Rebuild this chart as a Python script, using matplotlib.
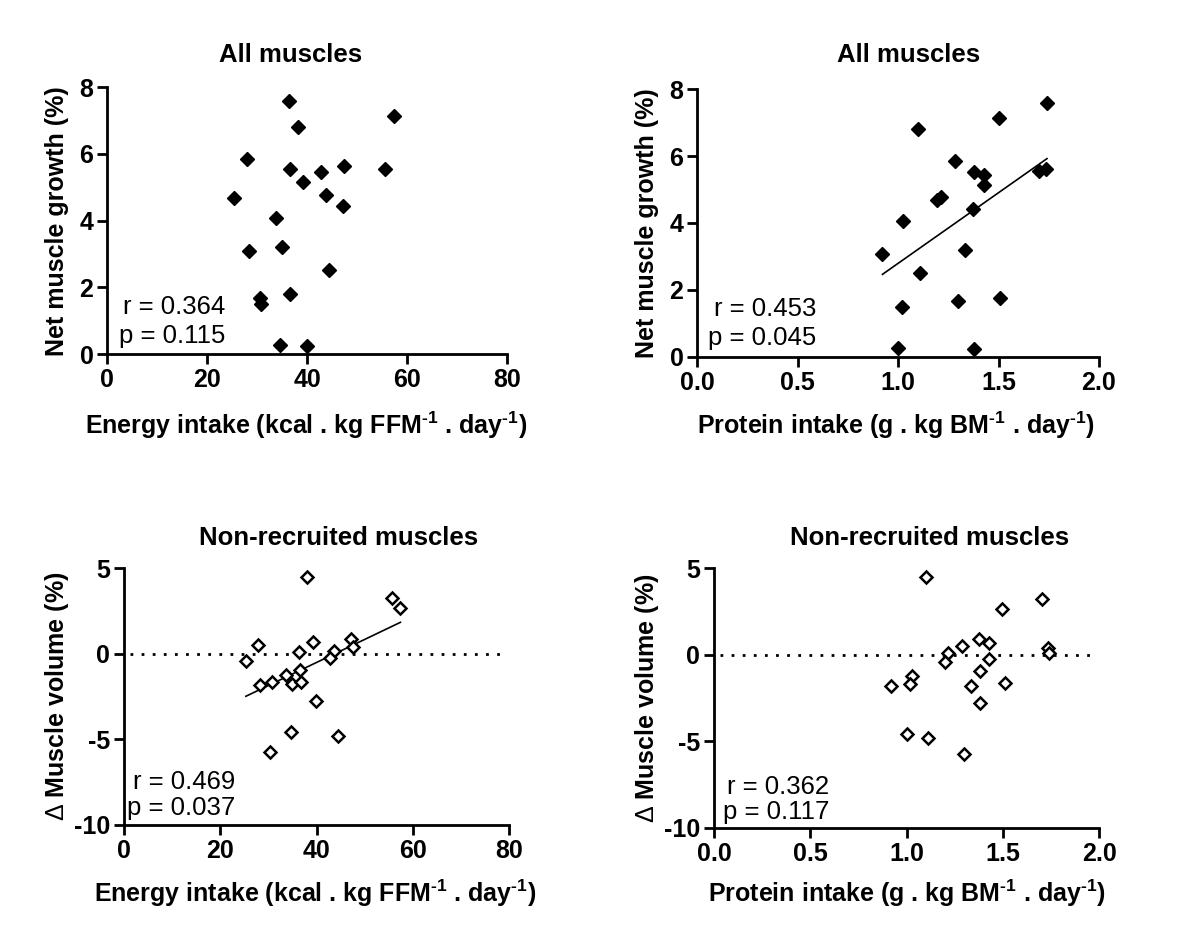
import numpy as np
import matplotlib
matplotlib.use("Agg")
import matplotlib.pyplot as plt

plt.rcParams['font.family'] = ['Liberation Sans', 'DejaVu Sans']
plt.rcParams['mathtext.fontset'] = 'custom'
plt.rcParams['mathtext.rm'] = 'Liberation Sans'
plt.rcParams['mathtext.bf'] = 'Liberation Sans:bold'
plt.rcParams['mathtext.default'] = 'bf'

# ---------------- data ----------------
titles = ["All muscles", "All muscles", "Non-recruited muscles", "Non-recruited muscles"]
xlabels = ["Energy intake (kcal . kg FFM$^{\u20101}$ . day$^{\u20101}$)",
           "Protein intake (g . kg BM$^{\u20101}$ . day$^{\u20101}$)"]
ylabels = ["Net muscle growth (%)", "$\\mathrm{\\Delta}$ Muscle volume (%)"]
stats = [("r = 0.364", "p = 0.115"), ("r = 0.453", "p = 0.045"),
         ("r = 0.469", "p = 0.037"), ("r = 0.362", "p = 0.117")]

energy_all = [36.3, 57.3, 38.1, 27.9, 36.6, 42.7, 47.4, 55.5, 39.2, 25.3, 43.7,
              47.1, 33.7, 35.0, 28.3, 44.3, 36.6, 30.5, 30.7, 34.6, 39.9]
growth_all_e = [7.59, 7.15, 6.82, 5.85, 5.55, 5.46, 5.64, 5.55, 5.16, 4.68, 4.76,
                4.45, 4.09, 3.21, 3.08, 2.53, 1.79, 1.69, 1.51, 0.28, 0.25]

protein_all = [1.741, 1.50, 1.098, 1.284, 1.380, 1.425, 1.699, 1.738, 1.425, 1.193, 1.214,
               1.374, 1.023, 0.922, 1.334, 1.111, 1.018, 1.297, 1.508, 0.998, 1.380]
growth_all_p = [7.58, 7.15, 6.81, 5.85, 5.53, 5.45, 5.55, 5.63, 5.14, 4.69, 4.77,
                4.43, 4.07, 3.08, 3.20, 2.51, 1.48, 1.67, 1.77, 0.25, 0.22]

energy_nr = [38.1, 55.6, 57.4, 27.9, 39.2, 47.1, 47.5, 36.4, 43.7, 42.8, 25.3,
             36.6, 33.6, 30.7, 28.2, 34.9, 36.7, 39.9, 34.6, 44.4, 30.4]
dvol_nr_e = [4.51, 3.27, 2.67, 0.53, 0.68, 0.89, 0.41, 0.12, 0.14, -0.23, -0.39,
             -0.95, -1.21, -1.67, -1.81, -1.77, -1.65, -2.78, -4.59, -4.82, -5.74]

protein_nr = [1.100, 1.703, 1.497, 1.378, 1.429, 1.286, 1.736, 1.740, 1.216, 1.198, 1.426,
              1.383, 1.028, 1.017, 0.921, 1.334, 1.510, 1.383, 1.002, 1.112, 1.300]
dvol_nr_p = [4.48, 3.24, 2.64, 0.91, 0.68, 0.52, 0.41, 0.12, 0.12, -0.39, -0.25,
             -0.93, -1.22, -1.70, -1.81, -1.78, -1.66, -2.78, -4.61, -4.83, -5.75]

xticks_e = [0, 20, 40, 60, 80]
xticks_p = [0.0, 0.5, 1.0, 1.5, 2.0]
yticks_top = [0, 2, 4, 6, 8]
yticks_bot = [-10, -5, 0, 5]

# ---------------- figure ----------------
W, H = 1200, 950
fig = plt.figure(figsize=(12, 9.5), dpi=100)


def rect(x0, x1, yt, yb):
    return [x0 / W, 1 - yb / H, (x1 - x0) / W, (yb - yt) / H]


FS_TICK = 18
FS_LAB = 18
FS_TITLE = 18.5
FS_STAT = 18.5

panels = [
    dict(r=rect(107.3, 507.3, 87.3, 354.0), x=energy_all, y=growth_all_e, filled=True,
         xlim=(0, 80), ylim=(0, 8), xt=xticks_e, yt=yticks_top, xfmt="{:g}", fit=False, zero=False,
         title_x=291, title_y=55, xl=xlabels[0], xl_x=306, xl_y=425, yl=ylabels[0], yl_x=57,
         st_x=0.294, st_y=(0.176, 0.067)),
    dict(r=rect(697.3, 1099.0, 89.3, 356.7), x=protein_all, y=growth_all_p, filled=True,
         xlim=(0, 2), ylim=(0, 8), xt=xticks_p, yt=yticks_top, xfmt="{:.1f}", fit=True, zero=False,
         title_x=909, title_y=55, xl=xlabels[1], xl_x=896, xl_y=425, yl=ylabels[0], yl_x=647,
         st_x=0.296, st_y=(0.178, 0.070)),
    dict(r=rect(124.0, 509.3, 568.3, 825.0), x=energy_nr, y=dvol_nr_e, filled=False,
         xlim=(0, 80), ylim=(-10, 5), xt=xticks_e, yt=yticks_bot, xfmt="{:g}", fit=True, zero=True,
         title_x=339, title_y=538, xl=xlabels[0], xl_x=315, xl_y=893, yl=ylabels[1], yl_x=57,
         st_x=0.290, st_y=(0.169, 0.065)),
    dict(r=rect(714.0, 1099.3, 568.3, 827.7), x=protein_nr, y=dvol_nr_p, filled=False,
         xlim=(0, 2), ylim=(-10, 5), xt=xticks_p, yt=yticks_bot, xfmt="{:.1f}", fit=False, zero=True,
         title_x=930, title_y=538, xl=xlabels[1], xl_x=907, xl_y=893, yl=ylabels[1], yl_x=647,
         st_x=0.299, st_y=(0.156, 0.062)),
]

for i, p in enumerate(panels):
    ax = fig.add_axes(p["r"])
    ax.set_xlim(*p["xlim"])
    ax.set_ylim(*p["ylim"])
    for s in ("top", "right"):
        ax.spines[s].set_visible(False)
    for s in ("left", "bottom"):
        ax.spines[s].set_linewidth(2.0)
    ax.set_xticks(p["xt"])
    ax.set_xticklabels([p["xfmt"].format(v) for v in p["xt"]])
    ax.set_yticks(p["yt"])
    ax.set_yticklabels([("{:g}".format(v)) for v in p["yt"]])
    ax.tick_params(direction="out", length=7, width=2.0, labelsize=FS_TICK, pad=3)
    for lab in ax.get_xticklabels() + ax.get_yticklabels():
        lab.set_fontweight("bold")

    if p["zero"]:
        ax.axhline(0, xmin=0.015, xmax=0.985, color="black", lw=2.0, ls=(0, (1, 3)))

    if p["filled"]:
        ax.plot(p["x"], p["y"], ls="none", marker="D", ms=7.5, mfc="black", mec="black",
                clip_on=False, zorder=3)
    else:
        ax.plot(p["x"], p["y"], ls="none", marker="D", ms=6.5, mfc="white", mec="black",
                mew=1.8, clip_on=False, zorder=3)

    if p["fit"]:
        xs = np.array(p["x"], dtype=float)
        ys = np.array(p["y"], dtype=float)
        k, b = np.polyfit(xs, ys, 1)
        xx = np.array([xs.min(), xs.max()])
        ax.plot(xx, k * xx + b, color="black", lw=1.2, zorder=2)

    r_txt, p_txt = stats[i]
    ax.text(p["st_x"], p["st_y"][0], r_txt, transform=ax.transAxes, ha="right", va="center",
            fontsize=FS_STAT)
    ax.text(p["st_x"], p["st_y"][1], p_txt, transform=ax.transAxes, ha="right", va="center",
            fontsize=FS_STAT)

    fig.text(p["title_x"] / W, 1 - p["title_y"] / H, titles[i], ha="center", va="center",
             fontsize=FS_TITLE, fontweight="bold")
    fig.text(p["xl_x"] / W, 1 - p["xl_y"] / H, p["xl"], ha="center", va="center",
             fontsize=FS_LAB, fontweight="bold")
    yc = 1 - (H * (1 - p["r"][1]) - H * p["r"][3] / 2) / H
    fig.text(p["yl_x"] / W, yc, p["yl"], ha="center", va="center", rotation=90,
             fontsize=FS_LAB, fontweight="bold")

fig.savefig("out.png", dpi=100)
